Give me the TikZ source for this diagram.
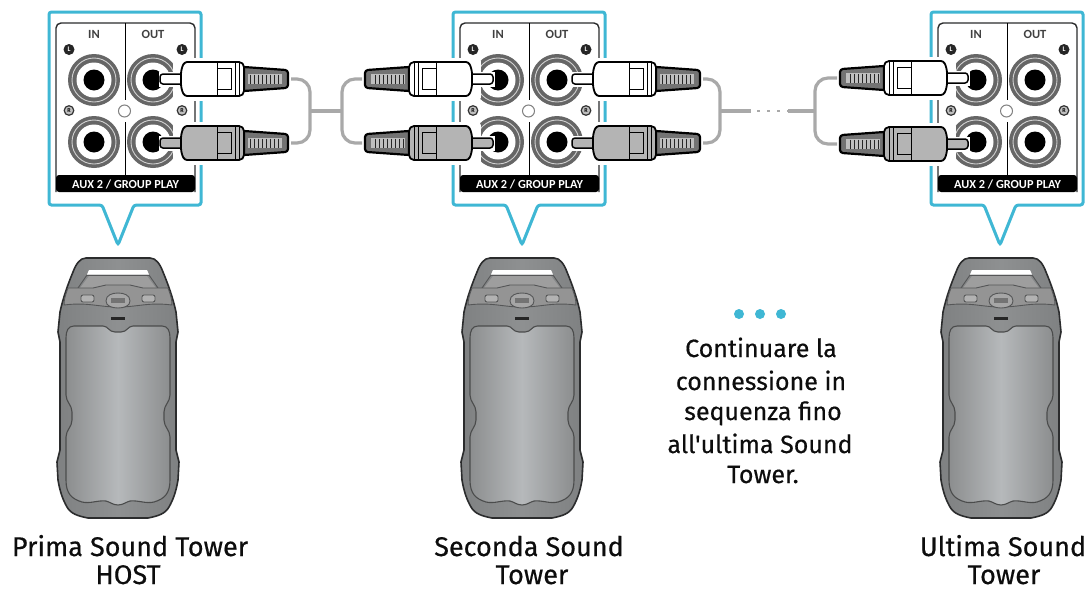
\documentclass[tikz,border=0pt]{standalone}
\usepackage{fontspec}
\setmainfont{Fira Sans}
\newfontfamily\capfont[FakeBold=0.45]{Fira Sans}
\newfontfamily\panelfont{Carlito}
\definecolor{cyanframe}{HTML}{3FB7D4}
\definecolor{cablegray}{HTML}{A9A9A9}
\definecolor{ringgray}{HTML}{666666}
\definecolor{plugR}{HTML}{B4B4B4}
\definecolor{bodydark}{HTML}{7F8182}
\definecolor{bodymid}{HTML}{8E9091}
\definecolor{bodylight}{HTML}{B6B9BB}
\definecolor{inkdark}{HTML}{2B2C2D}
\tikzset{
  x=1pt,y=-1pt,
  frame/.style={draw=cyanframe,line width=3pt,rounded corners=2.5pt,fill=white},
  cable/.style={draw=cablegray,line width=3.2pt,rounded corners=13pt},
  stem/.style={draw=cablegray,line width=3.2pt},
  dotline/.style={draw=cablegray,line width=2.5pt,dash pattern=on 3pt off 7pt},
  caption/.style={font=\capfont\fontsize{27}{30}\selectfont,text=black!95,anchor=base,inner sep=0pt},
  note/.style={font=\capfont\fontsize{25}{30}\selectfont,text=black!95,anchor=base,inner sep=0pt},
  plabel/.style={font=\panelfont\bfseries\fontsize{12.5}{14}\selectfont,inner sep=0pt,text=black!75},
  ink/.style={draw=inkdark,line width=1.3pt,line join=round},
  inkthin/.style={draw=inkdark!80,line width=.9pt},
  plugline/.style={draw=black,line width=1.8pt,line join=round},
}
\newcommand{\jackAt}[2]{%
  \fill[ringgray] (#1,#2) circle (26);
  \draw[white!70!ringgray,line width=.9pt] (#1,#2) circle (22);
  \fill[white] (#1,#2) circle (17.5);
  \fill[black] (#1,#2) circle (10.5);
}
\newcommand{\plugAt}[5]{%
  \begin{scope}[shift={(#1,#2)},xscale=#3]
    \fill[white,draw=white,line width=7pt,line join=round] (16,-18) rectangle (80,18);
    \fill[white,draw=white,line width=7pt,line join=round] (80,-14) rectangle (128,14);
    \fill[white,draw=white,line width=3pt] (0,-6) rectangle (20,6);
    \draw[plugline,fill=#4,rounded corners=3pt,line width=1.5pt] (22,-5) -- (0,-5) -- (0,5) -- (22,5);
    \draw[plugline,fill=black!55,line width=2.2pt,rounded corners=1pt]
      (84,-12) -- (126,-9) -- (128,-7) -- (128,7) -- (126,9) -- (84,12) -- cycle;
    \fill[black!25] (88,-5) rectangle (122,5);
    \foreach \i in {90,94,...,118} \draw[black!85,line width=1pt] (\i,-4.5) -- (\i,4.5);
    \draw[plugline,fill=#4,rounded corners=5pt] (21,-10) .. controls (24,-16) and (26,-17) .. (32,-17) -- (84,-17) -- (84,17) -- (32,17) .. controls (26,17) and (24,16) .. (21,10) -- cycle;
    \draw[black,line width=1pt] (57,-17) -- (57,10) -- (71,10) -- (71,-11) -- (57,-11);
    \draw[black,line width=1pt] (57,10) -- (57,17);
    \draw[black,line width=1pt] (75,-17) -- (75,17) (79,-17) -- (79,17);
    \coordinate (#5) at (131,0);
  \end{scope}
}
\newcommand{\panelAt}[2]{%
  \begin{scope}[shift={(#1,0)}]
    \draw[frame] (49,12) -- (201,12) -- (201,205) -- (134,205) -- (118,245) -- (102,205) -- (49,205) -- cycle;
    \draw[ink,fill=white,line width=1.4pt,rounded corners=5pt] (56,192) -- (56,23) -- (195,23) -- (195,192);
    \fill[black,rounded corners=3pt] (56,175) rectangle (195,192);
    \draw[black,line width=1pt] (125,23) -- (125,100) (125,122) -- (125,175);
    \node[plabel] (#2in) at (94,34) {IN};
    \node[plabel] (#2out) at (153,34) {OUT};
    \node[font=\panelfont\bfseries\fontsize{12.3}{13}\selectfont,text=white,inner sep=0pt] (#2bar) at (125.5,184) {AUX 2 / GROUP PLAY};
    \foreach \xx/\nn in {69/a,182/b} {
      \fill[black!85] (\xx,49.5) circle (5.5);
      \node[font=\panelfont\bfseries\fontsize{7}{7}\selectfont,text=white,inner sep=0pt] (#2L\nn) at (\xx,49.5) {L};
      \draw[black!80,fill=black!25,line width=1.2pt] (\xx,110.5) circle (4.8);
      \node[font=\panelfont\bfseries\fontsize{6}{6}\selectfont,text=black,inner sep=0pt] (#2R\nn) at (\xx,110.5) {R};
    }
    \draw[black!50,fill=white,line width=1pt] (124.5,111) circle (6);
    \jackAt{94}{80}\jackAt{94}{142}\jackAt{153}{80}\jackAt{153}{142}
  \end{scope}
}
\newcommand{\towerAt}[1]{%
  \begin{scope}[shift={(#1,0)}]
    \path[left color=bodydark,right color=bodydark,middle color=bodymid,draw=inkdark,line width=1.6pt,line join=round]
      (-32,258) -- (32,258) .. controls (38,258) and (42,264) .. (45,272)
      .. controls (50,284) and (55,298) .. (58,312) -- (60,332) -- (58,342) -- (58,450)
      -- (61,462) -- (60,480) .. controls (58,492) and (55,500) .. (51,507)
      .. controls (47,514) and (40,516) .. (30,518) -- (-30,518)
      .. controls (-40,516) and (-47,514) .. (-51,507)
      .. controls (-55,500) and (-58,492) .. (-60,480) -- (-61,462) -- (-58,450)
      -- (-58,342) -- (-60,332) -- (-58,312)
      .. controls (-55,298) and (-50,284) .. (-45,272)
      .. controls (-42,264) and (-38,258) .. (-32,258) -- cycle;
    \fill[black!38] (-29,276) -- (29,276) -- (38,288) -- (-38,288) -- cycle;
    \fill[white] (-29,270) -- (29,270) -- (31,274.5) -- (-31,274.5) -- cycle;
    \draw[inkthin] (-31,275.5) -- (31,275.5);
    \draw[inkthin] (-31,275) -- (-40,288) (31,275) -- (40,288);
    \draw[inkthin,fill=black!42] (-50,288) -- (-25,288) -- (-12,285) -- (12,285) -- (25,288) -- (50,288)
      .. controls (53,296) and (54,300) .. (54,305) .. controls (30,302) and (20,307) .. (0,307)
      .. controls (-20,307) and (-30,302) .. (-54,305) .. controls (-54,300) and (-53,296) .. (-50,288) -- cycle;
    \draw[inkthin,fill=black!35] (-12,301) .. controls (-12,295) and (-6,293) .. (0,293) .. controls (6,293) and (12,295) .. (12,301) .. controls (12,306) and (6,308) .. (0,308) .. controls (-6,308) and (-12,306) .. (-12,301) -- cycle;
    \fill[black!55] (-7,298) rectangle (7,303);
    \draw[inkthin,fill=black!30,rounded corners=2pt] (-37,295) rectangle (-24,302);
    \draw[inkthin,fill=black!30,rounded corners=2pt] (24,295) rectangle (37,302);
    \fill[black!85] (-7,317) rectangle (7,319.5);
    \path[left color=bodydark!90!white,right color=bodydark!90!white,middle color=bodylight,draw=inkdark!85,line width=1.1pt,line join=round]
      (-44,326) -- (-15,326) .. controls (-10,326) and (-9,332) .. (-3,332) -- (3,332)
      .. controls (9,332) and (10,326) .. (15,326) -- (44,326)
      .. controls (50,326) and (52,331) .. (52,338) -- (52,395)
      .. controls (52,402) and (46,405) .. (46,412) -- (46,420)
      .. controls (46,427) and (52,430) .. (52,437) -- (52,480)
      .. controls (52,494) and (46,499) .. (36,502) .. controls (28,504) and (20,500) .. (12,501)
      .. controls (8,502) and (5,505) .. (0,505) .. controls (-5,505) and (-8,502) .. (-12,501)
      .. controls (-20,500) and (-28,504) .. (-36,502)
      .. controls (-46,499) and (-52,494) .. (-52,480) -- (-52,437)
      .. controls (-52,430) and (-46,427) .. (-46,420) -- (-46,412)
      .. controls (-46,405) and (-52,402) .. (-52,395) -- (-52,338)
      .. controls (-52,331) and (-50,326) .. (-44,326) -- cycle;
  \end{scope}
}
\begin{document}
\begin{tikzpicture}[x=1pt,y=-1pt]
\useasboundingbox (0,0) rectangle (1087,592);
\fill[white] (0,0) rectangle (1087,592);
\panelAt{0}{a}
\panelAt{404}{b}
\panelAt{882}{c}
\plugAt{160}{79}{1}{white}{e1}
\plugAt{160}{143}{1}{plugR}{e2}
\plugAt{493}{79}{-1}{white}{e3}
\plugAt{493}{143}{-1}{plugR}{e4}
\plugAt{572}{79}{1}{white}{e5}
\plugAt{572}{143}{1}{plugR}{e6}
\plugAt{968}{78}{-1}{white}{e7}
\plugAt{968}{144}{-1}{plugR}{e8}
\coordinate (j1) at (310,111);
\coordinate (j2) at (342,111);
\coordinate (j3) at (720,111);
\coordinate (j4) at (815,111);
\coordinate (s1) at (751,111);
\coordinate (s2) at (788,111);
\draw[cable] (e1) -| (j1) |- (e2);
\draw[cable] (e3) -| (j2) |- (e4);
\draw[cable] (e5) -| (j3) |- (e6);
\draw[cable] (e7) -| (j4) |- (e8);
\draw[stem] (j1) -- (j2);
\draw[stem] (j3) -- (s1);
\draw[stem] (s2) -- (j4);
\draw[dotline] (s1) ++(6,0) -- (s2);
\towerAt{118}
\towerAt{522}
\towerAt{1001}
\node[caption] (c1a) at (130,556) {Prima Sound Tower};
\node[caption] (c1b) at (128,584) {HOST};
\node[caption] (c2a) at (529,556) {Seconda Sound};
\node[caption] (c2b) at (532,584) {Tower};
\node[caption] (c3a) at (1003,556) {Ultima Sound};
\node[caption] (c3b) at (1004,584) {Tower};
\foreach \xx/\nn in {739/a,760/b,781/c}
  \node[circle,fill=cyanframe,inner sep=0pt,minimum size=10pt] (dot\nn) at (\xx,314) {};
\node[note] (n1) at (761,357) {Continuare la};
\node[note] (n2) at (761,390) {connessione in};
\node[note] (n3) at (763,420) {sequenza fino};
\node[note] (n4) at (760,453) {all\char39 ultima Sound};
\node[note] (n5) at (763,483) {Tower.};
\end{tikzpicture}
\end{document}
